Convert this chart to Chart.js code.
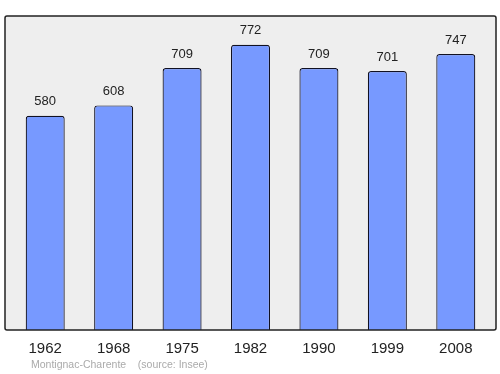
<!DOCTYPE html>
<html>
<head>
<meta charset="utf-8">
<script src="https://cdn.jsdelivr.net/npm/chart.js@4"></script>
<style>
  html, body { margin: 0; padding: 0; background: #ffffff; }
  #wrap { width: 500px; height: 374px; }
</style>
</head>
<body>
<div id="wrap"><canvas id="chart" width="500" height="374"></canvas></div>
<script>
// Population by census year
const years = ['1962', '1968', '1975', '1982', '1990', '1999', '2008'];
const population = [580, 608, 709, 772, 709, 701, 747];
const sourceText = 'Montignac-Charente    (source: Insee)';

const FONT = '"Liberation Sans", Arial, sans-serif';

// Box behind the bars, a bit wider than the chart area
const boxPlugin = {
    id: 'box',
    beforeDatasetsDraw(chart) {
        const ctx = chart.ctx;
        const a = chart.chartArea;
        ctx.save();
        ctx.fillStyle = '#eeeeee';
        ctx.fillRect(a.left - 6, a.top, a.right - a.left + 12, a.bottom - a.top);
        ctx.restore();
    },
    afterDatasetsDraw(chart) {
        const ctx = chart.ctx;
        const a = chart.chartArea;
        ctx.save();
        ctx.strokeStyle = '#222222';
        ctx.lineWidth = 1.5;
        ctx.beginPath();
        ctx.roundRect(a.left - 6, a.top, a.right - a.left + 12, a.bottom - a.top, 2);
        ctx.stroke();

        // value labels above bars
        ctx.fillStyle = '#222222';
        ctx.font = '13px ' + FONT;
        ctx.textAlign = 'center';
        ctx.textBaseline = 'middle';
        const meta = chart.getDatasetMeta(0);
        meta.data.forEach((bar, i) => {
            ctx.fillText(String(population[i]), bar.x, bar.y - 14);
        });

        // source line
        ctx.fillStyle = '#aaaaaa';
        ctx.font = '10.5px ' + FONT;
        ctx.textAlign = 'left';
        ctx.fillText(sourceText, 31, 365);
        ctx.restore();
    }
};

const ctx = document.getElementById('chart').getContext('2d');
new Chart(ctx, {
    type: 'bar',
    data: {
        labels: years,
        datasets: [{
            data: population,
            backgroundColor: '#7799ff',
            borderColor: '#111122',
            borderWidth: 1.2,
            borderRadius: 3,
            borderSkipped: 'bottom',
            barPercentage: 0.57,
            categoryPercentage: 1
        }]
    },
    options: {
        responsive: false,
        animation: false,
        layout: { padding: { left: 11, right: 10, top: 16, bottom: 0 } },
        plugins: {
            legend: { display: false },
            tooltip: { enabled: false }
        },
        scales: {
            x: {
                grid: { display: false, drawTicks: false },
                border: { display: false },
                ticks: {
                    color: '#222222',
                    padding: 10,
                    font: { family: FONT, size: 15 }
                },
                afterFit(scale) { scale.height = 44; }
            },
            y: {
                display: false,
                min: 0,
                max: 850
            }
        }
    },
    plugins: [boxPlugin]
});
</script>
</body>
</html>
